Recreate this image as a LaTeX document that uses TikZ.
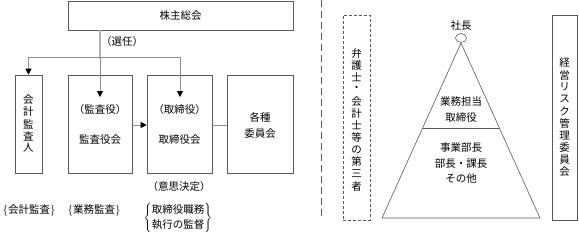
\documentclass[tikz,border=0pt]{standalone}
\usepackage{fontspec}
\setmainfont{Noto Sans CJK JP}
\usetikzlibrary{arrows.meta,shapes.geometric}
\begin{document}
\begin{tikzpicture}[x=1pt,y=-1pt,
  box/.style={draw=black!65, line width=0.6pt, rectangle, inner sep=0pt},
  dbox/.style={draw=black!65, line width=0.6pt, rectangle, inner sep=0pt, dash pattern=on 3pt off 2pt},
  txt/.style={font={\fontsize{10.5}{16}\selectfont}, inner sep=0pt, align=center},
  vch/.style={font={\fontsize{10.5}{12}\selectfont}, inner sep=0pt},
  conn/.style={draw=black!45, line width=0.8pt},
  thick conn/.style={draw=black!30, line width=2pt},
  arr/.style={-{Triangle[length=6pt,width=6pt,color=black]}},
]
\useasboundingbox (0,0) rectangle (579,231);

% ---- left part: boxes
\node[box, minimum width=225pt, minimum height=29pt] (kabu) at (180.5,15.5) {};
\node[txt] (kabuT) at (180.5,15.5) {株主総会};
\node[box, minimum width=27pt, minimum height=98pt] (kaikei) at (28.5,124) {};
\node[box, minimum width=64pt, minimum height=98pt] (kansa) at (100,124) {};
\node[box, minimum width=65pt, minimum height=98pt] (tori) at (179.5,124) {};
\node[box, minimum width=66pt, minimum height=98pt] (kaku) at (260,124) {};

\foreach \c [count=\i] in {会,計,監,査,人}
  \node[vch] (kk\i) at (28.5,{100+12*(\i-1)}) {\c};
\node[txt] (kansaT1) at (100,110) {（監査役）};
\node[txt] (kansaT2) at (100,140) {監査役会};
\node[txt] (toriT1) at (179.5,110) {（取締役）};
\node[txt] (toriT2) at (179.5,140) {取締役会};
\node[txt] (kakuT) at (260,125) {各種\\委員会};

\node[txt] (sennin) at (122,42) {（選任）};
\node[txt] (ishi) at (179,187) {（意思決定）};
\node[txt] (kaikeiK) at (29,210) {$\{$会計監査$\}$};
\node[txt] (gyomuK) at (94,210) {$\{$業務監査$\}$};
\node[inner sep=0pt] (toriK) at (178,218) {$\left\{\mbox{\fontsize{10.5}{16}\selectfont\begin{tabular}{@{}c@{}}取締役職務\\[-1pt]執行の監督\end{tabular}}\right\}$};

% ---- left part: connectors
\coordinate (hL) at (28.5,57);
\coordinate (hR) at (180,57);
\coordinate (kansaIn) at (100,97);
\coordinate (toriIn) at (180,97);
\draw[thick conn] (kabu.south -| kansaIn) -- (kansaIn |- hL);
\draw[conn] (hL) -- (hR);
\draw[conn, arr] (kansaIn |- hL) -- (kansaIn);
\draw[conn, arr] (hL) -- (kaikei.north);
\draw[conn, arr] (hR) -- (toriIn);
\draw[conn, arr] (kansa.east |- 0,125) -- (tori.west |- 0,125);
\draw[conn] (tori.east |- 0,125) -- (kaku.west |- 0,125);

% ---- divider
\coordinate (dTop) at (321,0);
\coordinate (dBot) at (321,220);
\draw[draw=black!65, line width=0.6pt, dash pattern=on 7pt off 4pt] (dTop) -- (dBot);

% ---- right part
\node[dbox, minimum width=27pt, minimum height=205pt] (bengo) at (356.5,117.5) {};
\foreach \c [count=\i] in {弁,護,士,・,会,計,士,等,の,第,三,者}
  \node[vch] (bg\i) at (356.5,{53+12.1*(\i-1)}) {\c};
\node[box, minimum width=25pt, minimum height=205pt] (keiei) at (564.5,117.5) {};
\foreach \c [count=\i] in {経,営,リ,ス,ク,管,理,委,員,会}
  \node[vch] (kr\i) at (564.5,{63+12.1*(\i-1)}) {\c};

\coordinate (apex) at (461,43);
\coordinate (bl) at (382,218);
\coordinate (br) at (540,218);
\coordinate (ml) at (422.6,128);
\coordinate (mr) at (499.4,128);
\draw[draw=black!65, line width=0.6pt] (apex) -- (bl) -- (br) -- cycle;
\draw[draw=black!65, line width=0.6pt] (ml) -- (mr);
\node[draw=black!65, line width=0.6pt, ellipse, minimum width=11pt, minimum height=9pt, inner sep=0pt, fill=white] (pres) at (461,38) {};
\node[txt] (presT) at (461,26) {社長};
\node[txt] (gyomu) at (461,110) {業務担当\\取締役};
\node[txt, font={\fontsize{10.5}{15.5}\selectfont}] (jigyo) at (461,163) {事業部長\\部長・課長\\その他};
\end{tikzpicture}
\end{document}
